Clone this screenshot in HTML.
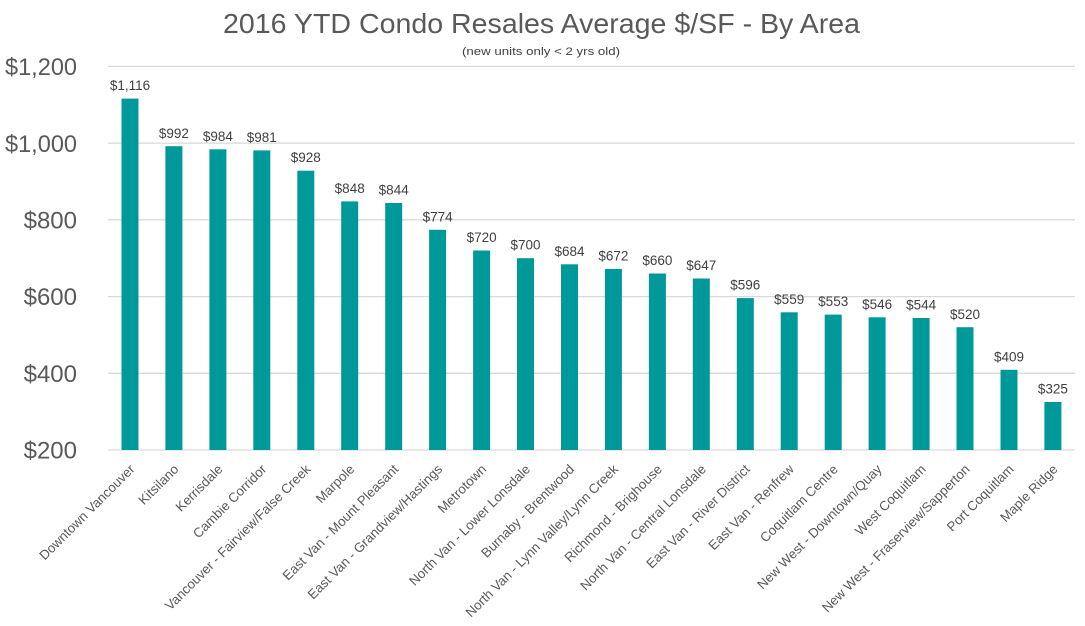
<!DOCTYPE html>
<html><head><meta charset="utf-8"><style>
html,body{margin:0;padding:0;background:#fff;}
svg{display:block;}
text{font-family:"Liberation Sans",sans-serif;}
</style></head><body>
<svg width="1085" height="626" viewBox="0 0 1085 626" xmlns="http://www.w3.org/2000/svg">
<rect width="1085" height="626" fill="#fff"/>
<text x="541.5" y="33" font-size="28" fill="#595959" text-anchor="middle" textLength="637" lengthAdjust="spacingAndGlyphs">2016 YTD Condo Resales Average $/SF - By Area</text>
<text x="541" y="55" font-size="11" fill="#404040" text-anchor="middle" textLength="158" lengthAdjust="spacingAndGlyphs">(new units only &lt; 2 yrs old)</text>
<g stroke="#d9d9d9" stroke-width="1.3">
<line x1="108" y1="66.4" x2="1075" y2="66.4"/>
<line x1="108" y1="143.1" x2="1075" y2="143.1"/>
<line x1="108" y1="219.8" x2="1075" y2="219.8"/>
<line x1="108" y1="296.6" x2="1075" y2="296.6"/>
<line x1="108" y1="373.3" x2="1075" y2="373.3"/>
<line x1="108" y1="450" x2="1075" y2="450"/>
</g>
<g font-size="24" fill="#595959" text-anchor="end">
<text x="77" y="75" textLength="72" lengthAdjust="spacingAndGlyphs">$1,200</text>
<text x="77" y="152" textLength="72" lengthAdjust="spacingAndGlyphs">$1,000</text>
<text x="77" y="228.5">$800</text>
<text x="77" y="305">$600</text>
<text x="77" y="382">$400</text>
<text x="77" y="458.5">$200</text>
</g>
<g fill="#009999">
<rect x="121.5" y="98.6" width="17" height="351.4"/>
<rect x="165.4" y="146.2" width="17" height="303.8"/>
<rect x="209.4" y="149.3" width="17" height="300.7"/>
<rect x="253.3" y="150.4" width="17" height="299.6"/>
<rect x="297.3" y="170.7" width="17" height="279.3"/>
<rect x="341.2" y="201.4" width="17" height="248.6"/>
<rect x="385.2" y="203.0" width="17" height="247.0"/>
<rect x="429.1" y="229.8" width="17" height="220.2"/>
<rect x="473.1" y="250.5" width="17" height="199.5"/>
<rect x="517.0" y="258.2" width="17" height="191.8"/>
<rect x="561.0" y="264.3" width="17" height="185.7"/>
<rect x="604.9" y="268.9" width="17" height="181.1"/>
<rect x="648.9" y="273.5" width="17" height="176.5"/>
<rect x="692.8" y="278.5" width="17" height="171.5"/>
<rect x="736.8" y="298.1" width="17" height="151.9"/>
<rect x="780.7" y="312.3" width="17" height="137.7"/>
<rect x="824.7" y="314.6" width="17" height="135.4"/>
<rect x="868.6" y="317.3" width="17" height="132.7"/>
<rect x="912.6" y="318.0" width="17" height="132.0"/>
<rect x="956.5" y="327.2" width="17" height="122.8"/>
<rect x="1000.5" y="369.8" width="17" height="80.2"/>
<rect x="1044.4" y="402.0" width="17" height="48.0"/>
</g>
<g font-size="13.5" fill="#404040" text-anchor="middle">
<text x="130.0" y="90">$1,116</text>
<text x="173.9" y="138">$992</text>
<text x="217.9" y="141">$984</text>
<text x="261.8" y="142">$981</text>
<text x="305.8" y="162">$928</text>
<text x="349.7" y="193">$848</text>
<text x="393.7" y="194.5">$844</text>
<text x="437.6" y="221.5">$774</text>
<text x="481.6" y="242">$720</text>
<text x="525.5" y="249.5">$700</text>
<text x="569.5" y="256">$684</text>
<text x="613.4" y="260.5">$672</text>
<text x="657.4" y="265">$660</text>
<text x="701.3" y="270">$647</text>
<text x="745.3" y="289.5">$596</text>
<text x="789.2" y="304">$559</text>
<text x="833.2" y="306">$553</text>
<text x="877.1" y="309">$546</text>
<text x="921.1" y="309.5">$544</text>
<text x="965.0" y="319">$520</text>
<text x="1009.0" y="361.5">$409</text>
<text x="1052.9" y="393.5">$325</text>
</g>
<g font-size="13.3" fill="#595959" text-anchor="end">
<text transform="translate(135.5,470) rotate(-45)">Downtown Vancouver</text>
<text transform="translate(179.4,470) rotate(-45)">Kitsilano</text>
<text transform="translate(223.4,470) rotate(-45)">Kerrisdale</text>
<text transform="translate(267.3,470) rotate(-45)">Cambie Corridor</text>
<text transform="translate(311.3,470) rotate(-45)">Vancouver - Fairview/False Creek</text>
<text transform="translate(355.2,470) rotate(-45)">Marpole</text>
<text transform="translate(399.2,470) rotate(-45)">East Van - Mount Pleasant</text>
<text transform="translate(443.1,470) rotate(-45)">East Van - Grandview/Hastings</text>
<text transform="translate(487.1,470) rotate(-45)">Metrotown</text>
<text transform="translate(531.0,470) rotate(-45)">North Van - Lower Lonsdale</text>
<text transform="translate(575.0,470) rotate(-45)">Burnaby - Brentwood</text>
<text transform="translate(618.9,470) rotate(-45)">North Van - Lynn Valley/Lynn Creek</text>
<text transform="translate(662.9,470) rotate(-45)">Richmond - Brighouse</text>
<text transform="translate(706.8,470) rotate(-45)">North Van - Central Lonsdale</text>
<text transform="translate(750.8,470) rotate(-45)">East Van - River District</text>
<text transform="translate(794.7,470) rotate(-45)">East Van - Renfrew</text>
<text transform="translate(838.7,470) rotate(-45)">Coquitlam Centre</text>
<text transform="translate(882.6,470) rotate(-45)">New West - Downtown/Quay</text>
<text transform="translate(926.6,470) rotate(-45)">West Coquitlam</text>
<text transform="translate(970.5,470) rotate(-45)">New West - Fraserview/Sapperton</text>
<text transform="translate(1014.5,470) rotate(-45)">Port Coquitlam</text>
<text transform="translate(1058.4,470) rotate(-45)">Maple Ridge</text>
</g>
</svg>
</body></html>
